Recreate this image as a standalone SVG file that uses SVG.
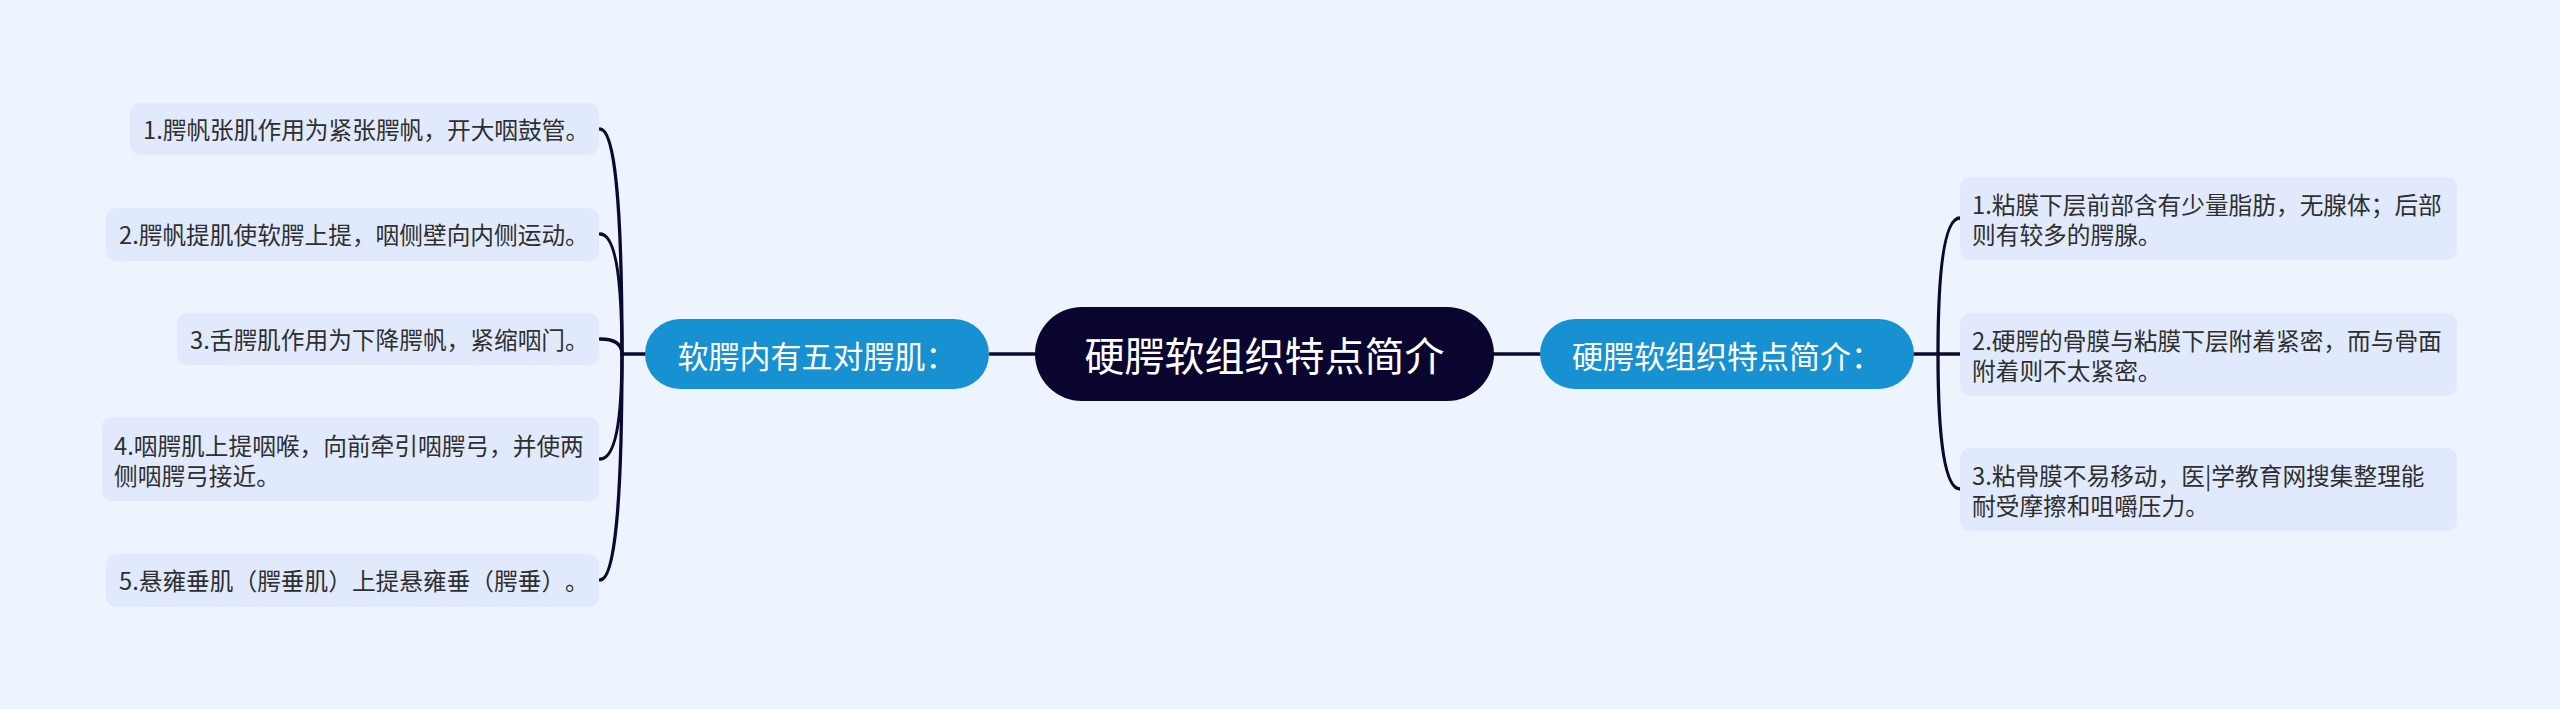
<svg xmlns="http://www.w3.org/2000/svg" width="2560" height="709" viewBox="0 0 2560 709">
<style>
text{text-spacing-trim:space-all}
.bg{fill:#eef4fe}
.leaf{fill:#e1eafc}
.lt{font-family:"Noto Sans CJK SC","Noto Sans",sans-serif;font-size:23.7px;fill:#2f2f2f;dominant-baseline:central}
.sub{fill:#1891d2}
.st{font-family:"Noto Sans CJK SC","Noto Sans",sans-serif;font-size:31px;fill:#ffffff;dominant-baseline:central;text-anchor:middle}
.root{fill:#0b0630}
.rt{font-family:"Noto Sans CJK SC","Noto Sans",sans-serif;font-size:40px;fill:#ffffff;dominant-baseline:central;text-anchor:middle}
.c{fill:none;stroke:#0b0a2e;stroke-width:3.3;stroke-linecap:round}
</style>
<rect class="bg" x="0" y="0" width="2560" height="709"/>
<g id="connectors">
<path class="c" d="M1035,354 L990,354"/>
<path class="c" d="M1494,354 L1540,354"/>
<path class="c" d="M645,354 L622,354"/>
<path class="c" d="M622,354 Q622,129 600,129"/>
<path class="c" d="M622,354 Q622,234 600,234"/>
<path class="c" d="M622,354 Q622,339 600,339"/>
<path class="c" d="M622,354 Q622,459 600,459"/>
<path class="c" d="M622,354 Q622,580 600,580"/>
<path class="c" d="M1914,354 L1938,354"/>
<path class="c" d="M1938,354 Q1938,218 1960,218"/>
<path class="c" d="M1938,354 L1960,354"/>
<path class="c" d="M1938,354 Q1938,489 1960,489"/>
</g>
<g id="root">
<rect class="root" x="1035" y="307" width="459" height="94" rx="47"/>
<text class="rt" x="1264.5" y="354">硬腭软组织特点简介</text>
</g>
<g id="sub-left">
<rect class="sub" x="645" y="319" width="344" height="70" rx="35"/>
<text class="st" x="817" y="354">软腭内有五对腭肌：</text>
</g>
<g id="sub-right">
<rect class="sub" x="1540" y="319" width="374" height="70" rx="35"/>
<text class="st" x="1727" y="354">硬腭软组织特点简介：</text>
</g>
<g id="l1">
<rect class="leaf" x="130" y="103" width="469" height="52" rx="10"/>
<text class="lt" x="143" y="129">1.腭帆张肌作用为紧张腭帆，开大咽鼓管。</text>
</g>
<g id="l2">
<rect class="leaf" x="106" y="208" width="493" height="53" rx="10"/>
<text class="lt" x="119" y="234">2.腭帆提肌使软腭上提，咽侧壁向内侧运动。</text>
</g>
<g id="l3">
<rect class="leaf" x="177" y="313" width="422" height="52" rx="10"/>
<text class="lt" x="190" y="339">3.舌腭肌作用为下降腭帆，紧缩咽门。</text>
</g>
<g id="l4">
<rect class="leaf" x="102" y="417" width="497" height="84" rx="10"/>
<text class="lt" x="114" y="445">4.咽腭肌上提咽喉，向前牵引咽腭弓，并使两</text>
<text class="lt" x="114" y="475">侧咽腭弓接近。</text>
</g>
<g id="l5">
<rect class="leaf" x="106" y="554" width="493" height="53" rx="10"/>
<text class="lt" x="119" y="580">5.悬雍垂肌（腭垂肌）上提悬雍垂（腭垂）。</text>
</g>
<g id="r1">
<rect class="leaf" x="1960" y="177" width="497" height="83" rx="10"/>
<text class="lt" x="1972" y="204">1.粘膜下层前部含有少量脂肪，无腺体；后部</text>
<text class="lt" x="1972" y="234">则有较多的腭腺。</text>
</g>
<g id="r2">
<rect class="leaf" x="1960" y="313" width="497" height="83" rx="10"/>
<text class="lt" x="1972" y="340">2.硬腭的骨膜与粘膜下层附着紧密，而与骨面</text>
<text class="lt" x="1972" y="370">附着则不太紧密。</text>
</g>
<g id="r3">
<rect class="leaf" x="1960" y="448" width="497" height="83" rx="10"/>
<text class="lt" x="1972" y="475">3.粘骨膜不易移动，医|学教育网搜集整理能</text>
<text class="lt" x="1972" y="505">耐受摩擦和咀嚼压力。</text>
</g>
</svg>
